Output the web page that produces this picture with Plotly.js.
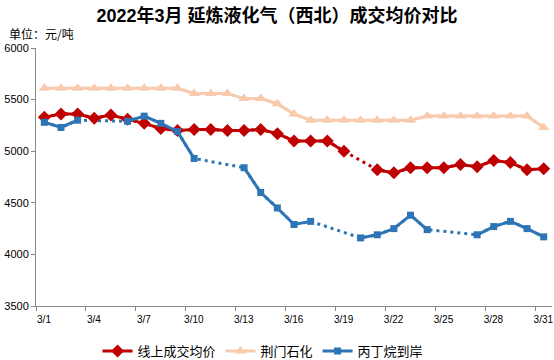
<!DOCTYPE html>
<html>
<head>
<meta charset="utf-8">
<script src="https://cdn.plot.ly/plotly-3.0.1.min.js"></script>
<style>html,body{margin:0;padding:0;background:#fff;}#chart{width:554px;height:360px;}</style>
</head>
<body>
<div id="chart"></div>
<script>
// Days of March 2022
const days = [1,2,3,4,5,6,7,8,9,10,11,12,13,14,15,16,17,18,19,20,21,22,23,24,25,26,27,28,29,30,31];
const tickDays = [1,4,7,10,13,16,19,22,25,28,31];
const tickLabels = ["3/1","3/4","3/7","3/10","3/13","3/16","3/19","3/22","3/25","3/28","3/31"];

const seriesNames = ["线上成交均价","荆门石化","丙丁烷到岸"];
// 线上成交均价 (元/吨)
const online = [5330,5360,5360,5320,5350,5310,5270,5220,5200,5210,5210,5200,5200,5210,5170,5100,5100,5100,5000,null,4820,4790,4840,4840,4840,4870,4850,4910,4890,4820,4830];
// 荆门石化
const jingmen = [5610,5610,5610,5610,5610,5610,5610,5610,5610,5560,5560,5560,5510,5510,5460,5360,5300,5300,5300,5300,5300,5300,5300,5340,5340,5340,5340,5340,5340,5340,5230];
// 丙丁烷到岸
const propane = [5280,5230,5300,null,null,5290,5340,5270,5190,4930,null,null,4840,4600,4450,4290,4320,null,null,4160,4190,4250,4380,4240,null,null,4190,4270,4320,4250,4170];

const colors = ["#c00000","#f8cbad","#2e75b6"];
const symbols = ["diamond","triangle-up","square"];
const sizes = [10,10,7];
const data = [online, jingmen, propane];

const traces = [];
// dotted connectors across missing days
data.forEach((ys,i)=>{
  traces.push({x:days,y:ys,type:"scatter",mode:"lines",connectgaps:true,
    line:{color:colors[i],width:3,dash:"3px,4px"},showlegend:false,hoverinfo:"skip"});
});
data.forEach((ys,i)=>{
  traces.push({x:days,y:ys,type:"scatter",mode:"lines+markers",connectgaps:false,name:seriesNames[i],
    line:{color:colors[i],width:3},marker:{symbol:symbols[i],size:sizes[i],color:colors[i]}});
});

const layout = {
  width:554,height:360,
  margin:{l:36,r:2,t:48,b:54,autoexpand:false},
  paper_bgcolor:"#fff",plot_bgcolor:"#fff",
  font:{family:"Liberation Sans, Noto Sans CJK SC, sans-serif",size:11,color:"#000"},
  title:{text:"2022年3月 延炼液化气（西北）成交均价对比",x:0.5,xref:"container",xanchor:"center",
    y:1-16/360,yref:"container",yanchor:"middle",
    font:{family:"Liberation Sans, Noto Sans CJK SC, sans-serif",size:18,weight:"bold",color:"#000"}},
  xaxis:{range:[0.5,31.5],showgrid:false,zeroline:false,showline:true,linecolor:"#888",linewidth:1,
    tickmode:"array",tickvals:tickDays.map(d=>d-0.5),ticktext:tickLabels,
    ticks:"outside",ticklen:4,tickcolor:"#888",ticklabelshift:8,ticklabeloverflow:"allow",
    tickfont:{size:10,color:"#000"}},
  yaxis:{range:[3500,6000],dtick:500,showgrid:false,zeroline:false,showline:true,linecolor:"#888",linewidth:1,
    ticks:"outside",ticklen:4,tickcolor:"#888",tickfont:{size:11,color:"#000"}},
  showlegend:true,
  legend:{orientation:"h",x:0.44,xanchor:"center",yref:"container",y:1-351/360,yanchor:"middle",
    font:{family:"Noto Sans CJK SC, sans-serif",size:13,color:"#000"},itemwidth:30,traceorder:"normal"},
  annotations:[{text:"单位：元/吨",xref:"paper",yref:"paper",x:-29/516,y:1+14/258,xanchor:"left",yanchor:"middle",
    showarrow:false,font:{family:"Noto Sans CJK SC, sans-serif",size:12,color:"#000"}}]
};
Plotly.newPlot("chart",traces,layout,{displayModeBar:false,staticPlot:true});
</script>
</body>
</html>
